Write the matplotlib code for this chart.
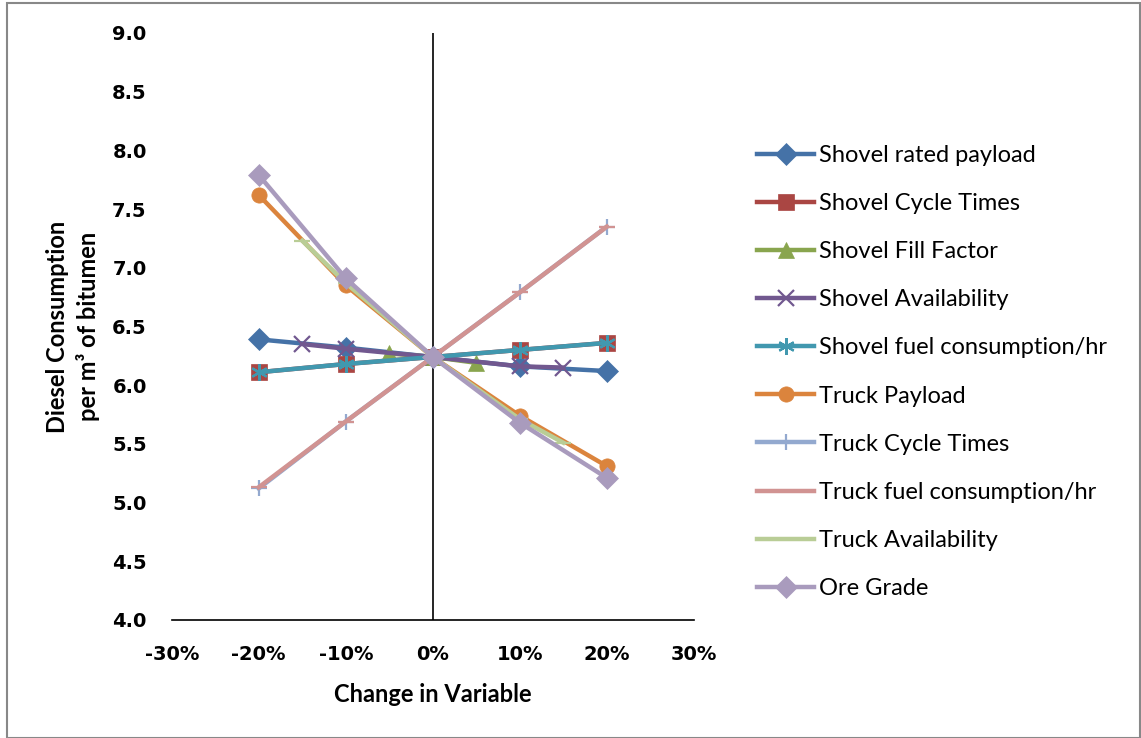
import matplotlib.pyplot as plt
from matplotlib.patches import Rectangle

# percent change in variable
x_full = [-20, -10, 0, 10, 20]
x_avail = [-15, -10, 0, 10, 15]
x_fill = [-5, 0, 5]

shovel_payload = [6.39, 6.32, 6.24, 6.16, 6.12]
shovel_cycle = [6.11, 6.18, 6.24, 6.30, 6.36]
shovel_fill = [6.27, 6.24, 6.19]
shovel_avail = [6.35, 6.31, 6.24, 6.16, 6.15]
shovel_fuel = [6.11, 6.18, 6.24, 6.30, 6.36]
truck_payload = [7.62, 6.85, 6.24, 5.74, 5.31]
truck_cycle = [5.12, 5.69, 6.24, 6.79, 7.35]
truck_fuel = [5.13, 5.69, 6.24, 6.79, 7.35]
truck_avail = [7.23, 6.87, 6.24, 5.71, 5.51]
ore_grade = [7.79, 6.91, 6.24, 5.68, 5.21]

series = [
    ('Shovel rated payload', x_full, shovel_payload, '#4572A7', 'D'),
    ('Shovel Cycle Times', x_full, shovel_cycle, '#AA4643', 's'),
    ('Shovel Fill Factor', x_fill, shovel_fill, '#89A54E', '^'),
    ('Shovel Availability', x_avail, shovel_avail, '#71588F', 'x'),
    ('Shovel fuel consumption/hr', x_full, shovel_fuel, '#4198AF', (6, 2, 0)),
    ('Truck Payload', x_full, truck_payload, '#DB843D', 'o'),
    ('Truck Cycle Times', x_full, truck_cycle, '#93A9CF', '+'),
    ('Truck fuel consumption/hr', x_full, truck_fuel, '#D19392', '_'),
    ('Truck Availability', x_avail, truck_avail, '#B9CD96', '_'),
    ('Ore Grade', x_full, ore_grade, '#A99BBD', 'D'),
]

fig = plt.figure(figsize=(11.41, 7.38), dpi=100)
ax = fig.add_axes([0.1505, 0.16, 0.4576, 0.7953])

for name, xs, ys, col, mk in series:
    filled = mk in ('D', 's', '^', 'o')
    ax.plot(xs, ys, color=col, lw=3.2, marker=mk,
            markersize=11 if filled else 12,
            markeredgewidth=1.6 if not filled else 0.5,
            markeredgecolor=col, label=name)

ax.set_xlim(-30, 30)
ax.set_ylim(4.0, 9.0)
ax.set_xticks([-30, -20, -10, 0, 10, 20, 30])
ax.set_xticklabels(['-30%', '-20%', '-10%', '0%', '10%', '20%', '30%'])
ax.set_yticks([4.0, 4.5, 5.0, 5.5, 6.0, 6.5, 7.0, 7.5, 8.0, 8.5, 9.0])
ax.set_yticklabels(['%.1f' % v for v in ax.get_yticks()])
ax.tick_params(length=0)
ax.tick_params(axis='y', pad=18)
ax.tick_params(axis='x', pad=18)
for lbl in ax.get_xticklabels() + ax.get_yticklabels():
    lbl.set_fontfamily('DejaVu Sans')
    lbl.set_fontweight('bold')
    lbl.set_fontsize(14)

for s in ['top', 'right', 'left']:
    ax.spines[s].set_visible(False)
ax.spines['bottom'].set_linewidth(1.2)
ax.axvline(0, color='black', lw=1.2, zorder=1)

ax.set_xlabel('Change in Variable', fontfamily='Lato', fontweight='bold',
              fontsize=17, labelpad=14)
ax.set_ylabel('Diesel Consumption\nper m³ of bitumen', fontfamily='Lato',
              fontweight='bold', fontsize=17, labelpad=9, linespacing=1.35)

leg = ax.legend(loc='center left', bbox_to_anchor=(0.645, 0.496),
                bbox_transform=fig.transFigure, frameon=False,
                prop={'family': 'Lato', 'size': 17}, handlelength=2.4,
                handletextpad=0.2, labelspacing=1.15)

fig.patches.append(Rectangle((0.006, 0.0), 0.993, 0.996, transform=fig.transFigure,
                             fill=False, edgecolor='#888888', lw=1.5))

fig.savefig('out.png')
